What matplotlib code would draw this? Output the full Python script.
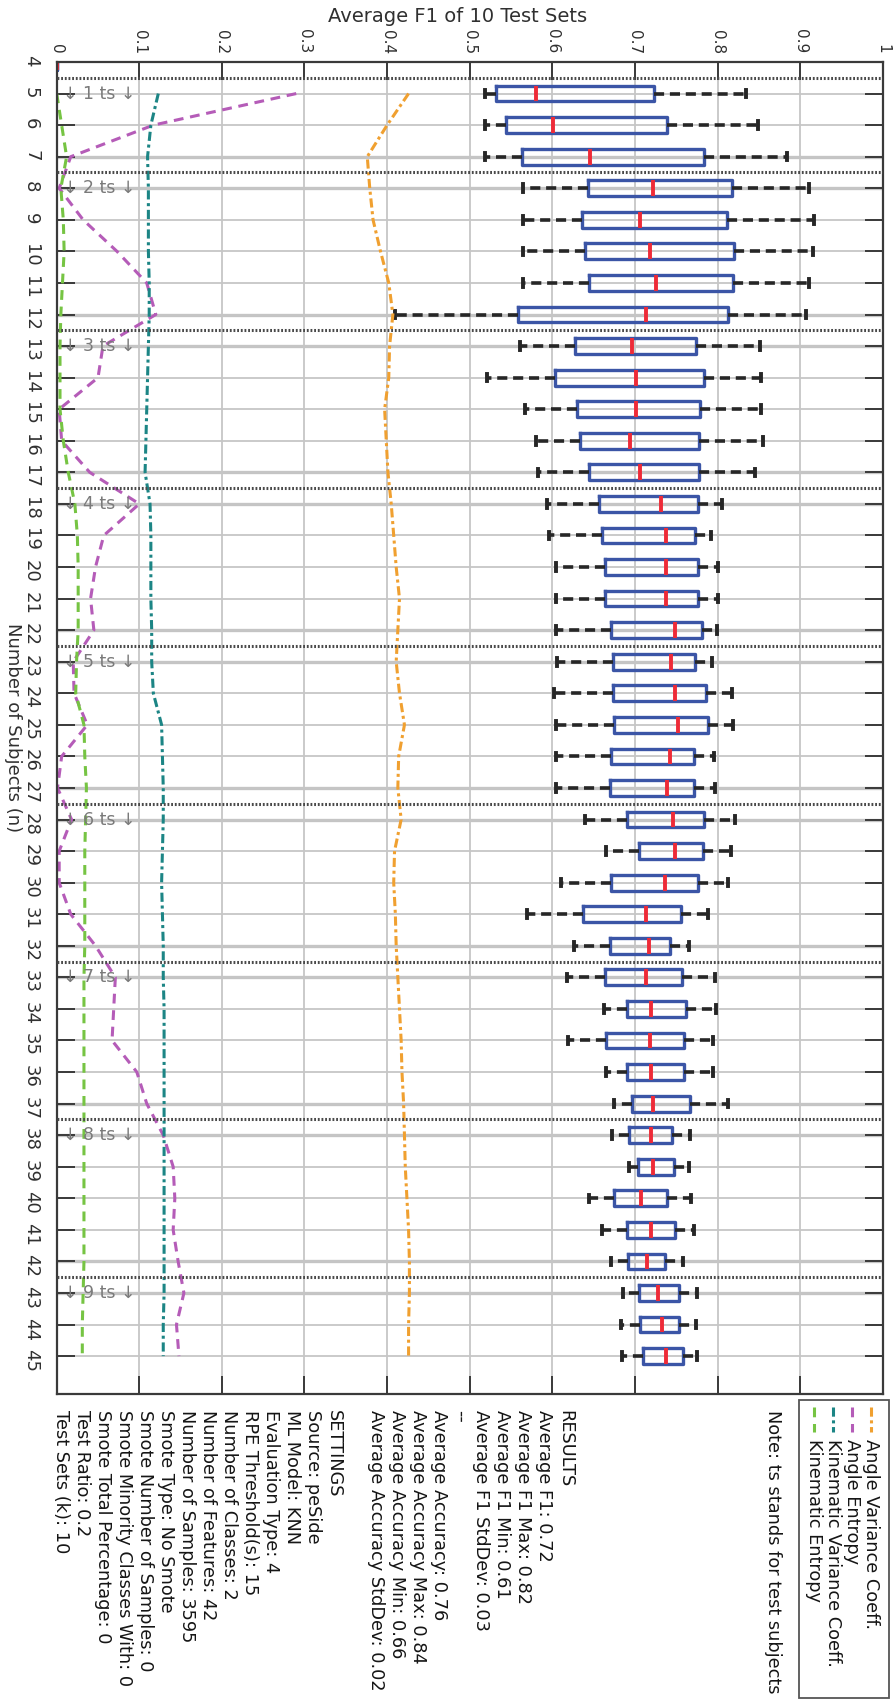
import matplotlib
matplotlib.use("Agg")
import matplotlib.pyplot as plt
from matplotlib.patches import Rectangle

plt.rcParams["font.family"] = ["DejaVu Sans"]

# ---- data -------------------------------------------------------------
subjects = list(range(4, 46))

f1_whislo = [0.0,
             0.518, 0.518, 0.518,
             0.565, 0.565, 0.565, 0.565, 0.410,
             0.561, 0.521, 0.567, 0.580, 0.583,
             0.594, 0.596, 0.604, 0.604, 0.604,
             0.606, 0.602, 0.604, 0.604, 0.605,
             0.639, 0.665, 0.610, 0.569, 0.626,
             0.618, 0.663, 0.619, 0.665, 0.675,
             0.672, 0.693, 0.645, 0.660, 0.671,
             0.685, 0.683, 0.684]
f1_q1 = [0.0,
         0.532, 0.544, 0.563,
         0.643, 0.636, 0.639, 0.644, 0.558,
         0.628, 0.603, 0.630, 0.634, 0.644,
         0.657, 0.660, 0.664, 0.664, 0.671,
         0.673, 0.673, 0.675, 0.671, 0.670,
         0.691, 0.705, 0.671, 0.637, 0.670,
         0.664, 0.690, 0.665, 0.690, 0.697,
         0.693, 0.704, 0.675, 0.690, 0.692,
         0.705, 0.706, 0.710]
f1_median = [0.0,
             0.580, 0.601, 0.646,
             0.722, 0.706, 0.718, 0.725, 0.714,
             0.696, 0.701, 0.701, 0.694, 0.706,
             0.731, 0.738, 0.738, 0.738, 0.749,
             0.744, 0.748, 0.752, 0.743, 0.739,
             0.746, 0.748, 0.736, 0.714, 0.717,
             0.714, 0.720, 0.718, 0.720, 0.722,
             0.720, 0.722, 0.707, 0.720, 0.715,
             0.728, 0.733, 0.738]
f1_q3 = [0.0,
         0.723, 0.739, 0.784,
         0.818, 0.812, 0.820, 0.819, 0.813,
         0.774, 0.784, 0.779, 0.778, 0.777,
         0.776, 0.773, 0.776, 0.776, 0.781,
         0.773, 0.786, 0.789, 0.771, 0.771,
         0.784, 0.783, 0.776, 0.756, 0.743,
         0.757, 0.762, 0.760, 0.760, 0.767,
         0.745, 0.747, 0.739, 0.748, 0.737,
         0.753, 0.753, 0.758]
f1_whishi = [0.0,
             0.835, 0.849, 0.884,
             0.911, 0.917, 0.916, 0.911, 0.907,
             0.851, 0.853, 0.853, 0.855, 0.846,
             0.806, 0.792, 0.800, 0.800, 0.799,
             0.793, 0.818, 0.819, 0.796, 0.797,
             0.821, 0.816, 0.813, 0.788, 0.765,
             0.797, 0.798, 0.795, 0.795, 0.813,
             0.767, 0.766, 0.768, 0.772, 0.758,
             0.775, 0.774, 0.775]

line_subjects = list(range(5, 46))
angle_variance_coeff = [0.426, 0.400, 0.376,
                        0.379, 0.383, 0.392, 0.402, 0.407,
                        0.403, 0.402, 0.397, 0.399, 0.401,
                        0.405, 0.408, 0.411, 0.415, 0.413,
                        0.411, 0.415, 0.421, 0.414, 0.413,
                        0.417, 0.409, 0.408, 0.410, 0.411,
                        0.413, 0.415, 0.417, 0.418, 0.420,
                        0.421, 0.422, 0.424, 0.426, 0.427,
                        0.427, 0.426, 0.426]
angle_entropy = [0.290, 0.117, 0.017,
                 0.003, 0.032, 0.073, 0.109, 0.120,
                 0.056, 0.050, 0.003, 0.006, 0.040,
                 0.100, 0.057, 0.047, 0.041, 0.045,
                 0.020, 0.021, 0.037, 0.006, 0.001,
                 0.018, 0.003, 0.003, 0.017, 0.047,
                 0.071, 0.069, 0.067, 0.097, 0.109,
                 0.129, 0.141, 0.143, 0.141, 0.147,
                 0.154, 0.145, 0.148]
kinematic_variance_coeff = [0.123, 0.114, 0.110,
                            0.111, 0.111, 0.111, 0.112, 0.112,
                            0.111, 0.110, 0.109, 0.108, 0.107,
                            0.113, 0.114, 0.114, 0.114, 0.115,
                            0.115, 0.117, 0.127, 0.128, 0.129,
                            0.129, 0.128, 0.127, 0.128, 0.129,
                            0.129, 0.130, 0.130, 0.130, 0.130,
                            0.130, 0.130, 0.130, 0.130, 0.130,
                            0.130, 0.129, 0.129]
kinematic_entropy = [0.000, 0.006, 0.012,
                     0.005, 0.008, 0.009, 0.007, 0.005,
                     0.004, 0.004, 0.004, 0.008, 0.014,
                     0.022, 0.025, 0.026, 0.026, 0.026,
                     0.024, 0.023, 0.033, 0.034, 0.036,
                     0.035, 0.034, 0.034, 0.034, 0.034,
                     0.033, 0.033, 0.033, 0.033, 0.033,
                     0.033, 0.033, 0.033, 0.033, 0.033,
                     0.032, 0.031, 0.031]

group_start = [5, 8, 13, 18, 23, 28, 33, 38, 43]
group_ts = [1, 2, 3, 4, 5, 6, 7, 8, 9]

f1_ticks = [0.0, 0.1, 0.2, 0.3, 0.4, 0.5, 0.6, 0.7, 0.8, 0.9, 1.0]
f1_tick_labels = ["0", "0.1", "0.2", "0.3", "0.4", "0.5", "0.6", "0.7", "0.8", "0.9", "1"]

series_names = ["Angle Variance Coeff.", "Angle Entropy",
                "Kinematic Variance Coeff.", "Kinematic Entropy"]

summary_lines = [
    "RESULTS",
    "Average F1: 0.72",
    "Average F1 Max: 0.82",
    "Average F1 Min: 0.61",
    "Average F1 StdDev: 0.03",
    "--",
    "Average Accuracy: 0.76",
    "Average Accuracy Max: 0.84",
    "Average Accuracy Min: 0.66",
    "Average Accuracy StdDev: 0.02",
    "",
    "SETTINGS",
    "Source: peSide",
    "ML Model: KNN",
    "Evaluation Type: 4",
    "RPE Threshold(s): 15",
    "Number of Classes: 2",
    "Number of Features: 42",
    "Number of Samples: 3595",
    "Smote Type: No Smote",
    "Smote Number of Samples: 0",
    "Smote Minority Classes With: 0",
    "Smote Total Percentage: 0",
    "Test Ratio: 0.2",
    "Test Sets (k): 10",
]

# ---- styles -----------------------------------------------------------
C_ORANGE = "#f0a030"
C_MAGENTA = "#b55cb8"
C_TEAL = "#1c8585"
C_GREEN = "#76c443"
C_BOX = "#3b55a6"
C_MED = "#ee2b38"
C_WHISK = "#262626"
C_SPINE = "#3a3a3a"
C_TEXT = "#151515"
FS = 13
FS_TXT = 12.8
DASHDOT = (0, (3, 1.2, 1, 1.2))
DASHED = (0, (3.2, 2.2))

W, H = 893, 1701
fig = plt.figure(figsize=(W / 100, H / 100), dpi=100)
L, R, T, B = 56.7, 882.7, 62.0, 1394.0
ax = fig.add_axes([L / W, 1 - B / H, (R - L) / W, (B - T) / H])

# ---- F1 box plots -----------------------------------------------------
stats = []
for n, lo, a, m, b, hi in zip(subjects, f1_whislo, f1_q1, f1_median, f1_q3, f1_whishi):
    stats.append(dict(label=str(n), whislo=lo, q1=a, med=m, q3=b, whishi=hi, fliers=[]))

ax.bxp(stats, positions=subjects, orientation="horizontal", widths=0.5,
       showfliers=False, capwidths=0.24, manage_ticks=False,
       boxprops=dict(color=C_BOX, lw=2.4),
       medianprops=dict(color=C_MED, lw=2.8, solid_capstyle="butt"),
       whiskerprops=dict(color=C_WHISK, lw=2.6, linestyle=(0, (2.8, 1.6))),
       capprops=dict(color=C_WHISK, lw=2.8))

# ---- feature lines ----------------------------------------------------
ax.plot(angle_variance_coeff, line_subjects, color=C_ORANGE, lw=2.2,
        linestyle=DASHDOT, zorder=2)
ax.plot(angle_entropy, line_subjects, color=C_MAGENTA, lw=2.2,
        linestyle=DASHED, zorder=2)
ax.plot(kinematic_variance_coeff, line_subjects, color=C_TEAL, lw=2.2,
        linestyle=DASHDOT, zorder=2)
ax.plot(kinematic_entropy, line_subjects, color=C_GREEN, lw=2.2,
        linestyle=DASHED, zorder=2)

# group separators, emphasised boundary rows and group labels
for s, k in zip(group_start, group_ts):
    if s > 5:
        for row in (s - 1, s):
            ax.axhline(row, color="#c4c4c4", lw=2.4, zorder=0.5)
    ax.axhline(s - 0.5, color="#4a4a4a", lw=2.2, linestyle=(0, (0.6, 0.6)), zorder=3)
    ax.text(0.008, s, f"\u2193 {k} ts \u2193", color="#7a7a7a", fontsize=12.5,
            ha="left", va="center", zorder=4)

# ---- axes -------------------------------------------------------------
ax.set_xlim(0, 1)
ax.set_ylim(46.2, 4)
ax.set_xticks(f1_ticks)
ax.set_xticklabels(f1_tick_labels)
ax.set_yticks(subjects)
ax.set_yticklabels([str(n) for n in subjects])
ax.xaxis.tick_top()
ax.tick_params(axis="x", which="both", direction="in", length=13, width=1.4,
               color=C_SPINE, top=True, bottom=True, labeltop=True,
               labelbottom=False, labelrotation=-90, labelsize=11, pad=6,
               labelcolor="#303030")
ax.tick_params(axis="y", which="both", direction="in", length=13, width=1.4,
               color=C_SPINE, left=True, right=True, labelleft=True,
               labelrotation=-90, labelsize=FS, pad=12, labelcolor="#303030")
ax.grid(True, color="#c6c6c6", lw=1.3, zorder=0)
ax.set_axisbelow(True)
for sp in ax.spines.values():
    sp.set_color(C_SPINE)
    sp.set_linewidth(1.6)

# ---- titles, summary text and legend (pixel layout) ------------------
ov = fig.add_axes([0, 0, 1, 1], zorder=-1)
ov.set_xlim(0, W)
ov.set_ylim(H, 0)
ov.axis("off")

ov.text(458, 16, "Average F1 of 10 Test Sets", fontsize=14, color="#303030",
        ha="center", va="center")
ov.text(13, (T + B) / 2, "Number of Subjects (n)", fontsize=FS, color="#303030",
        rotation=-90, ha="center", va="center")

y0 = 1410
step = 21.0
x_first = 565
for i, line in enumerate(summary_lines):
    if line:
        ov.text(x_first - i * step, y0, line, fontsize=FS_TXT, color=C_TEXT,
                rotation=-90, ha="center", va="top")

legend_styles = [
    (C_ORANGE, DASHDOT),
    (C_MAGENTA, DASHED),
    (C_TEAL, DASHDOT),
    (C_GREEN, DASHED),
]
leg_x = [871, 852, 833, 814]
for x, name, (c, ls) in zip(leg_x, series_names, legend_styles):
    ov.plot([x, x], [y0 - 3, y0 + 22], color=c, linestyle=ls, lw=2.2)
    ov.text(x, y0 + 29, name, fontsize=FS_TXT, color=C_TEXT, rotation=-90,
            ha="center", va="top")
ov.add_patch(Rectangle((799, 1400), 90, 298, fill=False, edgecolor="#555555", lw=1.3))
ov.text(773, y0, "Note: ts stands for test subjects", fontsize=FS_TXT, color=C_TEXT,
        rotation=-90, ha="center", va="top")

fig.savefig("out.png", dpi=100, facecolor="white")
